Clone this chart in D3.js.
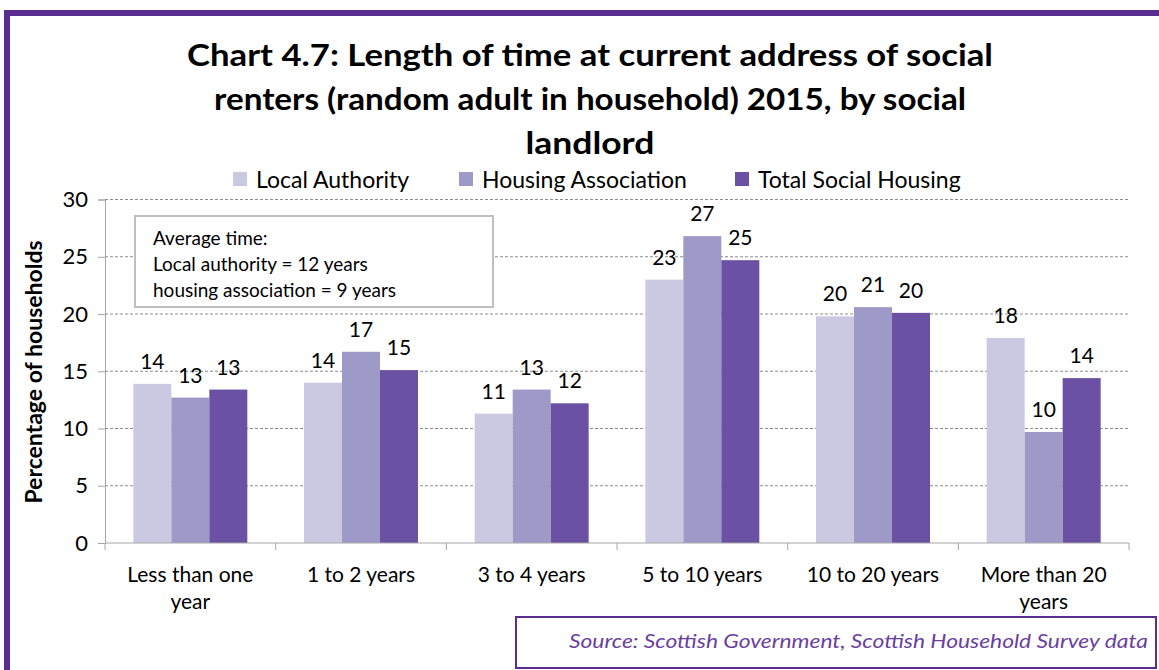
<!DOCTYPE html>
<html><head><meta charset="utf-8">
<script src="https://cdn.jsdelivr.net/npm/d3@7/dist/d3.min.js"></script>
<style>
body{margin:0;background:#fff;}
svg{display:block;font-family:Lato,"Open Sans",sans-serif;}
</style></head>
<body><svg id="chart" width="1159" height="670"></svg>
<script>
const categories = [["Less than one","year"],["1 to 2 years"],["3 to 4 years"],["5 to 10 years"],["10 to 20 years"],["More than 20","years"]];
const seriesNames = ["Local Authority","Housing Association","Total Social Housing"];
const localAuthority = [13.9, 14.0, 11.3, 23.0, 19.8, 17.9];
const housingAssociation = [12.7, 16.7, 13.4, 26.8, 20.6, 9.7];
const totalSocial = [13.4, 15.1, 12.2, 24.7, 20.1, 14.4];
const yTicks = [0,5,10,15,20,25,30];
const titleLines = ["Chart 4.7: Length of time at current address of social","renters (random adult in household) 2015, by social","landlord"];
const noteLines = ["Average time:","Local authority = 12 years","housing association = 9 years"];
const sourceText = "Source: Scottish Government, Scottish Household Survey data";
const colors = ["#cbc9e2","#9e9ac8","#6a51a3"];

const svg = d3.select("#chart");
const series = [localAuthority, housingAssociation, totalSocial];

// outer frame
svg.append("rect").attr("x",7).attr("y",13).attr("width",1170).attr("height",680)
  .attr("fill","none").attr("stroke","#5b2c91").attr("stroke-width",6);

// title
const titleW = [806, 752, 129];
titleLines.forEach((t,i)=>{
  svg.append("text").attr("x",590).attr("y",66+i*44).attr("text-anchor","middle")
    .attr("font-size",31).attr("font-weight","bold").attr("fill","#000")
    .attr("textLength",titleW[i]).attr("lengthAdjust","spacingAndGlyphs").text(t);
});

const x0 = 105, x1 = 1129, yTop = 199.5, yBot = 543;
const x = d3.scaleBand().domain(d3.range(categories.length)).range([x0,x1]).paddingInner(0).paddingOuter(0);
const inner = d3.scaleBand().domain(d3.range(3)).range([0,x.bandwidth()]).paddingOuter(0.746).paddingInner(0);
const y = d3.scaleLinear().domain([0,30]).range([yBot,yTop]);

// gridlines
svg.append("g").selectAll("line").data(yTicks.filter(d=>d>0)).join("line")
  .attr("x1",x0).attr("x2",x1).attr("y1",d=>y(d)).attr("y2",d=>y(d))
  .attr("stroke","#8c8c8c").attr("stroke-width",1).attr("stroke-dasharray","3,2");

// y axis
const yAxis = svg.append("g").attr("transform",`translate(${x0},0)`)
  .call(d3.axisLeft(y).tickValues(yTicks).tickSize(7).tickPadding(10));
yAxis.select(".domain").attr("stroke","#a6a6a6");
yAxis.selectAll(".tick line").attr("stroke","#a6a6a6");
yAxis.selectAll(".tick text").attr("font-size",22).attr("fill","#000").attr("font-family","Lato,sans-serif");

// bars
const groups = svg.append("g").selectAll("g").data(categories).join("g")
  .attr("transform",(d,i)=>`translate(${x(i)},0)`);
groups.each(function(d,ci){
  const g = d3.select(this);
  series.forEach((s,si)=>{
    g.append("rect").attr("x",inner(si)).attr("y",y(s[ci])).attr("width",inner.bandwidth())
      .attr("height",y(0)-y(s[ci])).attr("fill",colors[si]);
    g.append("text").attr("x",inner(si)+inner.bandwidth()/2).attr("y",y(s[ci])-15)
      .attr("text-anchor","middle").attr("font-size",21).attr("fill","#000").text(Math.round(s[ci]));
  });
});

// x axis
const xAxisG = svg.append("g");
xAxisG.append("line").attr("x1",x0).attr("x2",x1).attr("y1",yBot).attr("y2",yBot).attr("stroke","#a6a6a6");
xAxisG.selectAll("line.tk").data(d3.range(categories.length+1)).join("line").attr("class","tk")
  .attr("x1",i=>x0+i*x.bandwidth()).attr("x2",i=>x0+i*x.bandwidth()).attr("y1",yBot).attr("y2",yBot+7).attr("stroke","#a6a6a6");
categories.forEach((lines,i)=>{
  lines.forEach((l,j)=>{
    xAxisG.append("text").attr("x",x(i)+x.bandwidth()/2).attr("y",582+j*27).attr("text-anchor","middle")
      .attr("font-size",21).attr("fill","#000").text(l);
  });
});

// y label
svg.append("text").attr("transform","translate(42,372) rotate(-90)").attr("text-anchor","middle")
  .attr("font-size",23).attr("font-weight","bold").attr("fill","#000").text("Percentage of households");

// legend
const legX = [233, 459, 735];
seriesNames.forEach((n,i)=>{
  svg.append("rect").attr("x",legX[i]).attr("y",172).attr("width",14).attr("height",14).attr("fill",colors[i]);
  svg.append("text").attr("x",legX[i]+23).attr("y",188).attr("font-size",23).attr("fill","#000").text(n);
});

// note box
svg.append("rect").attr("x",135).attr("y",216).attr("width",358).attr("height",91)
  .attr("fill","#fff").attr("stroke","#bfbfbf").attr("stroke-width",2);
noteLines.forEach((t,i)=>{
  svg.append("text").attr("x",153).attr("y",245+i*26).attr("font-size",19).attr("fill","#000").text(t);
});

// source box
svg.append("rect").attr("x",516).attr("y",617).attr("width",640).attr("height",51)
  .attr("fill","#fff").attr("stroke","#5b2c91").attr("stroke-width",2);
svg.append("text").attr("x",569).attr("y",648).attr("font-size",20).attr("font-style","italic")
  .attr("fill","#6a3fa0").attr("textLength",579).attr("lengthAdjust","spacingAndGlyphs").text(sourceText);
</script></body></html>
